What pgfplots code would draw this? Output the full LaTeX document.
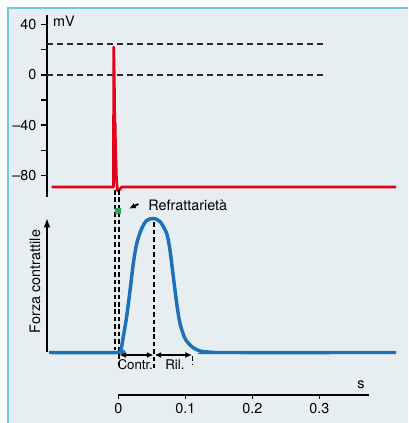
\documentclass[border=0pt]{standalone}
\usepackage{fontspec}
\setmainfont{TeX Gyre Heros}
\usepackage{pgfplots}
\pgfplotsset{compat=1.18}
\usetikzlibrary{arrows.meta}

\definecolor{panelbg}{HTML}{E6EEF2}
\definecolor{panelbd}{HTML}{6CCBE0}
\definecolor{apred}{HTML}{E2001A}
\definecolor{fblue}{HTML}{1D71B8}
\definecolor{rgreen}{HTML}{2BA34A}
\definecolor{dgray}{HTML}{2A2A2A}
\newcommand{\lf}{\fontsize{10.8}{12}\selectfont}

\begin{document}
\begin{tikzpicture}
\fill[white] (0,0) rectangle (306pt,317.25pt);
\fill[panelbg] (6pt,0) rectangle (306pt,311.25pt);
\draw[panelbd,line width=1.1pt] (6pt,0) -- (6pt,311.25pt) -- (306pt,311.25pt);

% ---------- membrane potential ----------
\begin{axis}[
  at={(35.25pt,169.5pt)}, anchor=south west,
  scale only axis, width=264.75pt, height=136.5pt,
  xmin=-0.10642, xmax=0.42045, ymin=-96.9, ymax=47.4,
  clip=false,
  axis y line*=left, axis x line=none,
  ytick={-80,-40,0,40}, yticklabels={–80,–40,0,40},
  minor ytick={-60,-20,20},
  tick align=outside,
  major tick length=4.5pt, minor tick length=4.5pt,
  major tick style={black,line width=1.1pt},
  minor tick style={black,line width=1.1pt},
  axis line style={black,line width=1.1pt},
  tick label style={font=\lf},
]
\addplot[dgray, line width=1.35pt, dash pattern=on 4.5pt off 3pt] coordinates {(-0.10642,24.3) (0.309,24.3)};
\addplot[dgray, line width=1.35pt, dash pattern=on 4.5pt off 3pt] coordinates {(-0.10642,0) (0.309,0)};
\addplot[apred, line width=2pt, line join=round] coordinates {
 (-0.0994,-89) (-0.0072,-89) (-0.0069,22) (-0.0060,0) (-0.0052,-40)
 (-0.0047,-38) (-0.0040,-60) (-0.0025,-85) (-0.0010,-92) (0.0012,-91.5)
 (0.005,-89) (0.4145,-89)};
\node[anchor=west, inner sep=0pt, font=\lf] at (axis cs:-0.0975,42.1) {mV};
\end{axis}

% ---------- contractile force ----------
\begin{axis}[
  at={(35.25pt,37.875pt)}, anchor=south west,
  scale only axis, width=264.75pt, height=142.5pt,
  xmin=-0.10642, xmax=0.42045, ymin=-20, ymax=170,
  hide axis, clip=false,
]
% refractory period markers
\addplot[black, line width=1pt, dash pattern=on 3.4pt off 2.2pt] coordinates {(-0.0049,162.5) (-0.0049,2.5)};
\addplot[black, line width=1pt, dash pattern=on 3.4pt off 2.2pt] coordinates {(0.0010,162.5) (0.0010,-15)};
\addplot[black, line width=1pt, dash pattern=on 3.4pt off 2.2pt] coordinates {(0.0533,130) (0.0533,-15.5)};
\addplot[black, line width=1pt, dash pattern=on 3.4pt off 2.2pt] coordinates {(0.1104,-4) (0.1104,-12.5)};
\addplot[only marks, mark=square*, mark size=2pt, color=rgreen] coordinates {(-0.0012,141.8)};
% force curve
\addplot[fblue, line width=2.6pt, smooth] coordinates {
 (-0.1034,0) (0,0) (0.004,3) (0.0075,16) (0.0125,36) (0.0175,62)
 (0.0224,89) (0.0275,109) (0.0349,124) (0.0424,132) (0.0522,134)
 (0.0622,131) (0.0722,119) (0.0772,102) (0.0821,76) (0.0872,49)
 (0.0921,29) (0.0996,14) (0.1096,6) (0.122,1.5) (0.137,0.4) (0.152,0) (0.4145,0)};
% y axis arrow
\draw[black, line width=1.1pt, -{Latex[length=7pt,width=5pt]}] (axis cs:-0.10642,0) -- (axis cs:-0.10642,134.5);
\node[rotate=90, font=\lf] at (axis cs:-0.1243,71) {Forza contrattile};
% phases
\draw[black, line width=0.9pt, {Latex[length=5pt,width=4.5pt]}-{Latex[length=5pt,width=4.5pt]}] (axis cs:0.0018,-2.5) -- (axis cs:0.0525,-2.5);
\draw[black, line width=0.9pt, {Latex[length=5pt,width=4.5pt]}-{Latex[length=5pt,width=4.5pt]}] (axis cs:0.0541,-2.5) -- (axis cs:0.1100,-2.5);
\node[font=\fontsize{10}{12}\selectfont, inner sep=0pt] at (axis cs:0.0252,-12.5) {Contr.};
\node[font=\fontsize{10}{12}\selectfont, inner sep=0pt] at (axis cs:0.0846,-12.5) {Ril.};
% refractory label
\draw[black, line width=1.4pt, -{Latex[length=5pt,width=4.5pt]}] (axis cs:0.0300,148.5) -- (axis cs:0.0160,143.8);
\node[anchor=west, inner sep=0pt, font=\lf] at (axis cs:0.0443,147.5) {Refrattarietà};
\end{axis}

% ---------- time axis ----------
\begin{axis}[
  at={(88.725pt,21pt)}, anchor=south west,
  scale only axis, width=188pt, height=20pt,
  xmin=0, xmax=0.374, ymin=0, ymax=1,
  axis x line*=bottom, axis y line=none,
  xtick={0,0.1,0.2,0.3}, xticklabels={0,0.1,0.2,0.3},
  tick align=outside, major tick length=3pt,
  major tick style={black,line width=1.1pt},
  axis line style={black,line width=1.1pt},
  tick label style={font=\lf},
  clip=false,
]
\node[anchor=base, inner sep=0pt, font=\lf] at (axis cs:0.362,0) [yshift=4.5pt] {s};
\end{axis}
\pgfresetboundingbox
\useasboundingbox (0,0) rectangle (306pt,317.25pt);
\end{tikzpicture}
\end{document}
